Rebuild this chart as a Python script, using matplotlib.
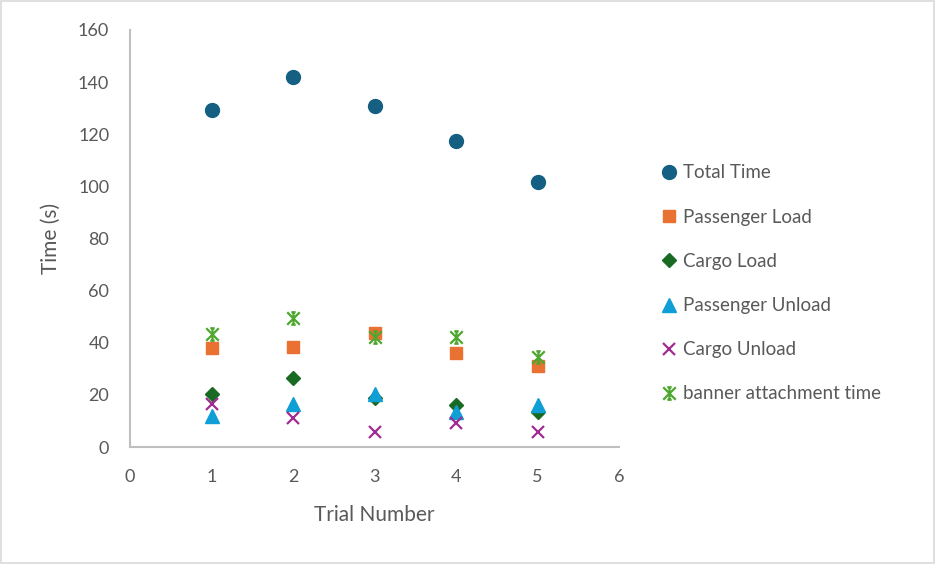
import matplotlib
matplotlib.use("Agg")
import matplotlib.pyplot as plt
from matplotlib.path import Path
from matplotlib.patches import Rectangle

trials = [1, 2, 3, 4, 5]
total_time = [129.3, 141.9, 130.9, 117.4, 101.8]
passenger_load = [37.9, 38.5, 43.9, 36.2, 31.2]
cargo_load = [20.4, 26.4, 18.8, 16.1, 13.4]
passenger_unload = [11.8, 16.5, 20.2, 13.6, 16.3]
cargo_unload = [16.4, 11.0, 5.6, 9.1, 5.6]
banner_time = [43.4, 49.4, 42.1, 42.3, 34.4]

series_names = ["Total Time", "Passenger Load", "Cargo Load", "Passenger Unload",
                "Cargo Unload", "banner attachment time"]
x_ticks = [0, 1, 2, 3, 4, 5, 6]
y_ticks = [0, 20, 40, 60, 80, 100, 120, 140, 160]

plt.rcParams['font.family'] = ['Lato', 'DejaVu Sans']
text_color = "#595959"

# Excel-style star marker: X + vertical line with small caps
star = Path(
    [(-1, -1), (1, 1), (-1, 1), (1, -1), (0, -1), (0, 1), (-0.35, 1), (0.35, 1), (-0.35, -1), (0.35, -1)],
    [Path.MOVETO, Path.LINETO, Path.MOVETO, Path.LINETO, Path.MOVETO, Path.LINETO,
     Path.MOVETO, Path.LINETO, Path.MOVETO, Path.LINETO])

fig = plt.figure(figsize=(9.35, 5.64), dpi=100)
fig.patches.append(Rectangle((0.001, 0.001), 0.998, 0.998, transform=fig.transFigure,
                             fill=False, edgecolor="#D9D9D9", linewidth=1.2))
ax = fig.add_axes([130/935, 117/564, 489/935, 417/564])

styles = [
    dict(marker='o', color='#156082', markersize=10),
    dict(marker='s', color='#E97132', markersize=9),
    dict(marker='D', color='#196B24', markersize=7),
    dict(marker='^', color='#0F9ED5', markersize=10),
    dict(marker='x', color='#A02B93', markersize=9, markeredgewidth=1.6),
    dict(marker=star, color='#4EA72E', markersize=9, markeredgewidth=1.6),
]
data = [total_time, passenger_load, cargo_load, passenger_unload, cargo_unload, banner_time]
for name, vals, st in zip(series_names, data, styles):
    ax.plot(trials, vals, linestyle='none', label=name, **st)

ax.set_xlim(0, 6)
ax.set_ylim(0, 160)
ax.set_xticks(x_ticks)
ax.set_yticks(y_ticks)
for s in ['top', 'right']:
    ax.spines[s].set_visible(False)
for s in ['left', 'bottom']:
    ax.spines[s].set_color('#BFBFBF')
    ax.spines[s].set_linewidth(1.5)
ax.tick_params(length=0, labelsize=13, colors=text_color)
ax.tick_params(axis='y', pad=15)
ax.tick_params(axis='x', pad=16)
ax.set_xlabel("Trial Number", fontsize=15, color=text_color, labelpad=14)
ax.set_ylabel("Time (s)", fontsize=15, color=text_color, labelpad=12)

leg = fig.legend(loc='upper left', bbox_to_anchor=(654/935, 1 - 157/564), frameon=False,
                 fontsize=13.5, labelcolor=text_color, handlelength=0.8, handletextpad=0.35,
                 labelspacing=1.45, borderaxespad=0)

fig.savefig("out.png", dpi=100)
